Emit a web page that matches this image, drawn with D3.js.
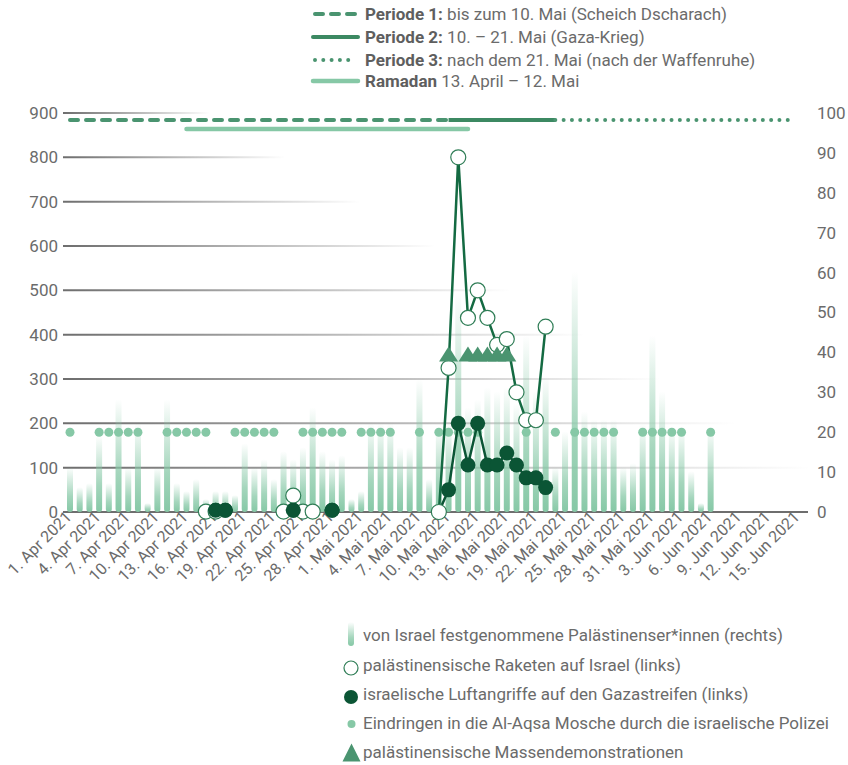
<!DOCTYPE html>
<html>
<head>
<meta charset="utf-8">
<script src="https://cdn.jsdelivr.net/npm/d3@7"></script>
<style>
 body{margin:0;background:#fff;}
 svg{display:block;font-family:Roboto,"Noto Sans",sans-serif;}
</style>
</head>
<body>
<svg id="chart" width="848" height="765"></svg>
<script>
// Festnahmen (rechte Achse), ab 1. April 2021 taeglich
var arrestStart="2021-04-01";
var arrestValues=[11,6,7,19,7,28,11,22,2,11,28,7,5,8,
 3,5,5,4,17,11,13,8,15,13,16,26,15,13,14,3,
 5,22,22,22,16,16,33,8,21,22,55,26,28,31,30,31,27,44,30,34,11,20,60,25,23,23,23,11,12,22,
 44,30,21,21,10,2,21];

var rocketDates=["2021-04-15","2021-04-16","2021-04-23","2021-04-24","2021-04-25","2021-04-26",
 "2021-05-09","2021-05-10","2021-05-11","2021-05-12","2021-05-13","2021-05-14","2021-05-15","2021-05-16","2021-05-17","2021-05-18","2021-05-19","2021-05-20"];
var rocketValues=[1,1,1,37,1,1, 0,325,800,438,500,438,377,390,270,207,207,418];

var airDates=["2021-04-16","2021-04-17","2021-04-24","2021-04-28",
 "2021-05-09","2021-05-10","2021-05-11","2021-05-12","2021-05-13","2021-05-14","2021-05-15","2021-05-16","2021-05-17","2021-05-18","2021-05-19","2021-05-20"];
var airValues=[4,4,4,4, 0,50,200,106,200,106,106,133,106,77,77,55];

var aqsaDates=["2021-04-01","2021-04-04","2021-04-05","2021-04-06","2021-04-07","2021-04-08",
 "2021-04-11","2021-04-12","2021-04-13","2021-04-14","2021-04-15",
 "2021-04-18","2021-04-19","2021-04-20","2021-04-21","2021-04-22",
 "2021-04-25","2021-04-26","2021-04-27","2021-04-28","2021-04-29",
 "2021-05-01","2021-05-02","2021-05-03","2021-05-04","2021-05-07",
 "2021-05-09","2021-05-10","2021-05-11","2021-05-12","2021-05-13","2021-05-18","2021-05-21",
 "2021-05-23","2021-05-24","2021-05-25","2021-05-26","2021-05-27",
 "2021-05-30","2021-05-31","2021-06-01","2021-06-02","2021-06-03","2021-06-06"];
var aqsaLevel=20;

var demoDates=["2021-05-10","2021-05-12","2021-05-13","2021-05-14","2021-05-15","2021-05-16"];
var demoLevel=40;

var periodNames=["Periode 1:","Periode 2:","Periode 3:","Ramadan"];
var periodTexts=[" bis zum 10. Mai (Scheich Dscharach)"," 10. – 21. Mai (Gaza-Krieg)"," nach dem 21. Mai (nach der Waffenruhe)"," 13. April – 12. Mai"];
var periodStart=["2021-04-01","2021-05-10","2021-05-21","2021-04-13"];
var periodEnd=["2021-05-10","2021-05-21","2021-06-14","2021-05-12"];

var leftTicks=[0,100,200,300,400,500,600,700,800,900];
var rightTicks=[0,10,20,30,40,50,60,70,80,90,100];
var legendTexts=["von Israel festgenommene Palästinenser*innen (rechts)","palästinensische Raketen auf Israel (links)","israelische Luftangriffe auf den Gazastreifen (links)","Eindringen in die Al-Aqsa Mosche durch die israelische Polizei","palästinensische Massendemonstrationen"];

var parse=d3.timeParse("%Y-%m-%d");
var months=["Jan","Feb","Mär","Apr","Mai","Jun","Jul","Aug","Sep","Okt","Nov","Dez"];
var fmt=function(d){return d.getDate()+". "+months[d.getMonth()]+" "+d.getFullYear();};

var cText="#6b6b6b",cLight="#86c8a6",cMid="#4a9470",cDark="#0b5535",cLine="#146a42",cRing="#2f7d56";

var svg=d3.select("#chart");
var x=d3.scaleTime().domain([parse("2021-04-01"),parse("2021-06-15")]).range([70,798]);
var yL=d3.scaleLinear().domain([0,900]).range([512,113]);
var yR=d3.scaleLinear().domain([0,100]).range([512,113]);

var defs=svg.append("defs");
var bg=defs.append("linearGradient").attr("id","barGrad").attr("x1",0).attr("y1",1).attr("x2",0).attr("y2",0);
bg.append("stop").attr("offset",0).attr("stop-color",cLight).attr("stop-opacity",1);
bg.append("stop").attr("offset",0.35).attr("stop-color",cLight).attr("stop-opacity",0.75);
bg.append("stop").attr("offset",1).attr("stop-color",cLight).attr("stop-opacity",0);

// Gitterlinien, nach rechts auslaufend
leftTicks.forEach(function(v){
 if(v===0)return;
 var endX=885-75*(v/100);
 var g=defs.append("linearGradient").attr("id","grid"+v).attr("gradientUnits","userSpaceOnUse")
  .attr("x1",63).attr("x2",endX).attr("y1",0).attr("y2",0);
 g.append("stop").attr("offset",0).attr("stop-color","#6e6e6e").attr("stop-opacity",1);
 g.append("stop").attr("offset",1).attr("stop-color","#6e6e6e").attr("stop-opacity",0);
 svg.append("line").attr("x1",63).attr("x2",endX).attr("y1",yL(v)).attr("y2",yL(v))
  .attr("stroke","url(#grid"+v+")").attr("stroke-width",2);
});
svg.append("line").attr("x1",63).attr("x2",808).attr("y1",yL(0)).attr("y2",yL(0))
 .attr("stroke","#6e6e6e").attr("stroke-width",2);

// Achsen
var axL=svg.append("g").attr("transform","translate(60,0)")
 .call(d3.axisLeft(yL).tickValues(leftTicks).tickSize(0).tickPadding(2));
var axR=svg.append("g").attr("transform","translate(815,0)")
 .call(d3.axisRight(yR).tickValues(rightTicks).tickSize(0).tickPadding(2));
[axL,axR].forEach(function(a){
 a.select(".domain").remove();
 a.selectAll("text").attr("fill",cText).style("font-size","17px").style("font-family","Roboto");
});
var xTicks=d3.timeDay.range(parse("2021-04-01"),parse("2021-06-16"),3);
var axX=svg.append("g").attr("transform","translate(0,512)")
 .call(d3.axisBottom(x).tickValues(xTicks).tickFormat(fmt).tickSize(0));
axX.select(".domain").remove();
axX.selectAll("text").attr("fill",cText).style("font-size","16px").style("font-family","Roboto")
 .attr("text-anchor","end").attr("y",0).attr("dy",0).attr("transform","translate(2,6) rotate(-45)");

// Balken: Festnahmen
var arrests=arrestValues.map(function(v,i){return {d:d3.timeDay.offset(parse(arrestStart),i),v:v};});
svg.append("g").selectAll("rect").data(arrests).enter().append("rect")
 .attr("x",function(a){return x(a.d)-3;}).attr("width",6)
 .attr("y",function(a){return yR(a.v)-1;}).attr("height",function(a){return yR(0)-yR(a.v)+1;})
 .attr("rx",3).attr("fill","url(#barGrad)");

// Al-Aqsa
svg.append("g").selectAll("circle").data(aqsaDates).enter().append("circle")
 .attr("cx",function(d){return x(parse(d));}).attr("cy",yR(aqsaLevel)).attr("r",4.5).attr("fill",cLight);

// Perioden oben
var pY=[120,120,120,129];
var pDash=["8 8",null,"0 8.3",null];
var pCol=[cMid,"#3c8962",cMid,cLight];
periodNames.forEach(function(n,i){
 svg.append("line").attr("x1",x(parse(periodStart[i]))).attr("x2",x(parse(periodEnd[i])))
  .attr("y1",pY[i]).attr("y2",pY[i]).attr("stroke",pCol[i]).attr("stroke-width",i===3?4.5:4)
  .attr("stroke-linecap",i===1?"butt":"round").attr("stroke-dasharray",pDash[i]);
});

// Linien
var rockets=rocketDates.map(function(d,i){return {d:parse(d),v:rocketValues[i]};});
var airs=airDates.map(function(d,i){return {d:parse(d),v:airValues[i]};});
var war=parse("2021-05-09");
var line=d3.line().x(function(p){return x(p.d);}).y(function(p){return yL(p.v);});
svg.append("path").attr("d",line(rockets.filter(function(p){return p.d>=war;})))
 .attr("fill","none").attr("stroke",cLine).attr("stroke-width",2.5);
svg.append("path").attr("d",line(airs.filter(function(p){return p.d>=war;})))
 .attr("fill","none").attr("stroke",cDark).attr("stroke-width",2.5);

svg.append("g").selectAll("circle").data(airs.filter(function(p){return p.v>0;})).enter().append("circle")
 .attr("cx",function(p){return x(p.d);}).attr("cy",function(p){return yL(p.v);}).attr("r",7.5)
 .attr("fill",cDark);
svg.append("g").selectAll("circle").data(rockets).enter().append("circle")
 .attr("cx",function(p){return x(p.d);}).attr("cy",function(p){return yL(p.v);}).attr("r",7.5)
 .attr("fill","#fff").attr("stroke",cRing).attr("stroke-width",1.2);
// im April liegen die Luftangriffe ueber den Raketen
svg.append("g").selectAll("circle").data(airs.filter(function(p){return p.v>0&&p.d<war;})).enter().append("circle")
 .attr("cx",function(p){return x(p.d);}).attr("cy",function(p){return yL(p.v);}).attr("r",7.5)
 .attr("fill",cDark);

// Demonstrationen
svg.append("g").selectAll("path").data(demoDates).enter().append("path")
 .attr("d",function(d){var cx=x(parse(d)),cy=yR(demoLevel);return "M"+(cx-9.5)+","+(cy+9)+"L"+cx+","+(cy-6)+"L"+(cx+9.5)+","+(cy+9)+"Z";})
 .attr("fill","#4a9470");

// Legende oben
var lt=svg.append("g");
periodNames.forEach(function(n,i){
 var yy=[14,37,60,81][i];
 lt.append("line").attr("x1",i===1||i===3?313:315).attr("x2",i===1||i===3?358:356).attr("y1",yy).attr("y2",yy)
  .attr("stroke",pCol[i]).attr("stroke-width",i===3?4.5:4).attr("stroke-linecap","round").attr("stroke-dasharray",pDash[i]);
 var t=lt.append("text").attr("x",365).attr("y",yy+6).attr("fill",cText).style("font-size","17px");
 t.append("tspan").attr("font-weight","bold").attr("fill","#5e5e5e").text(n);
 t.append("tspan").text(periodTexts[i]);
});

// Legende unten
var lb=svg.append("g");
var rowY=[641,671,700,729,758];
lb.append("rect").attr("x",348).attr("y",622).attr("width",6).attr("height",24).attr("rx",3).attr("fill","url(#barGrad)");
lb.append("circle").attr("cx",351).attr("cy",668).attr("r",7).attr("fill","#fff").attr("stroke",cRing).attr("stroke-width",1.2);
lb.append("circle").attr("cx",351).attr("cy",697).attr("r",7).attr("fill",cDark);
lb.append("circle").attr("cx",351.5).attr("cy",724).attr("r",4).attr("fill",cLight);
lb.append("path").attr("d","M342.5,761.5L351.5,743.5L360.5,761.5Z").attr("fill","#4a9470");
legendTexts.forEach(function(s,i){
 lb.append("text").attr("x",363).attr("y",rowY[i]).attr("fill",cText).style("font-size","17px").text(s);
});
</script>
</body>
</html>
